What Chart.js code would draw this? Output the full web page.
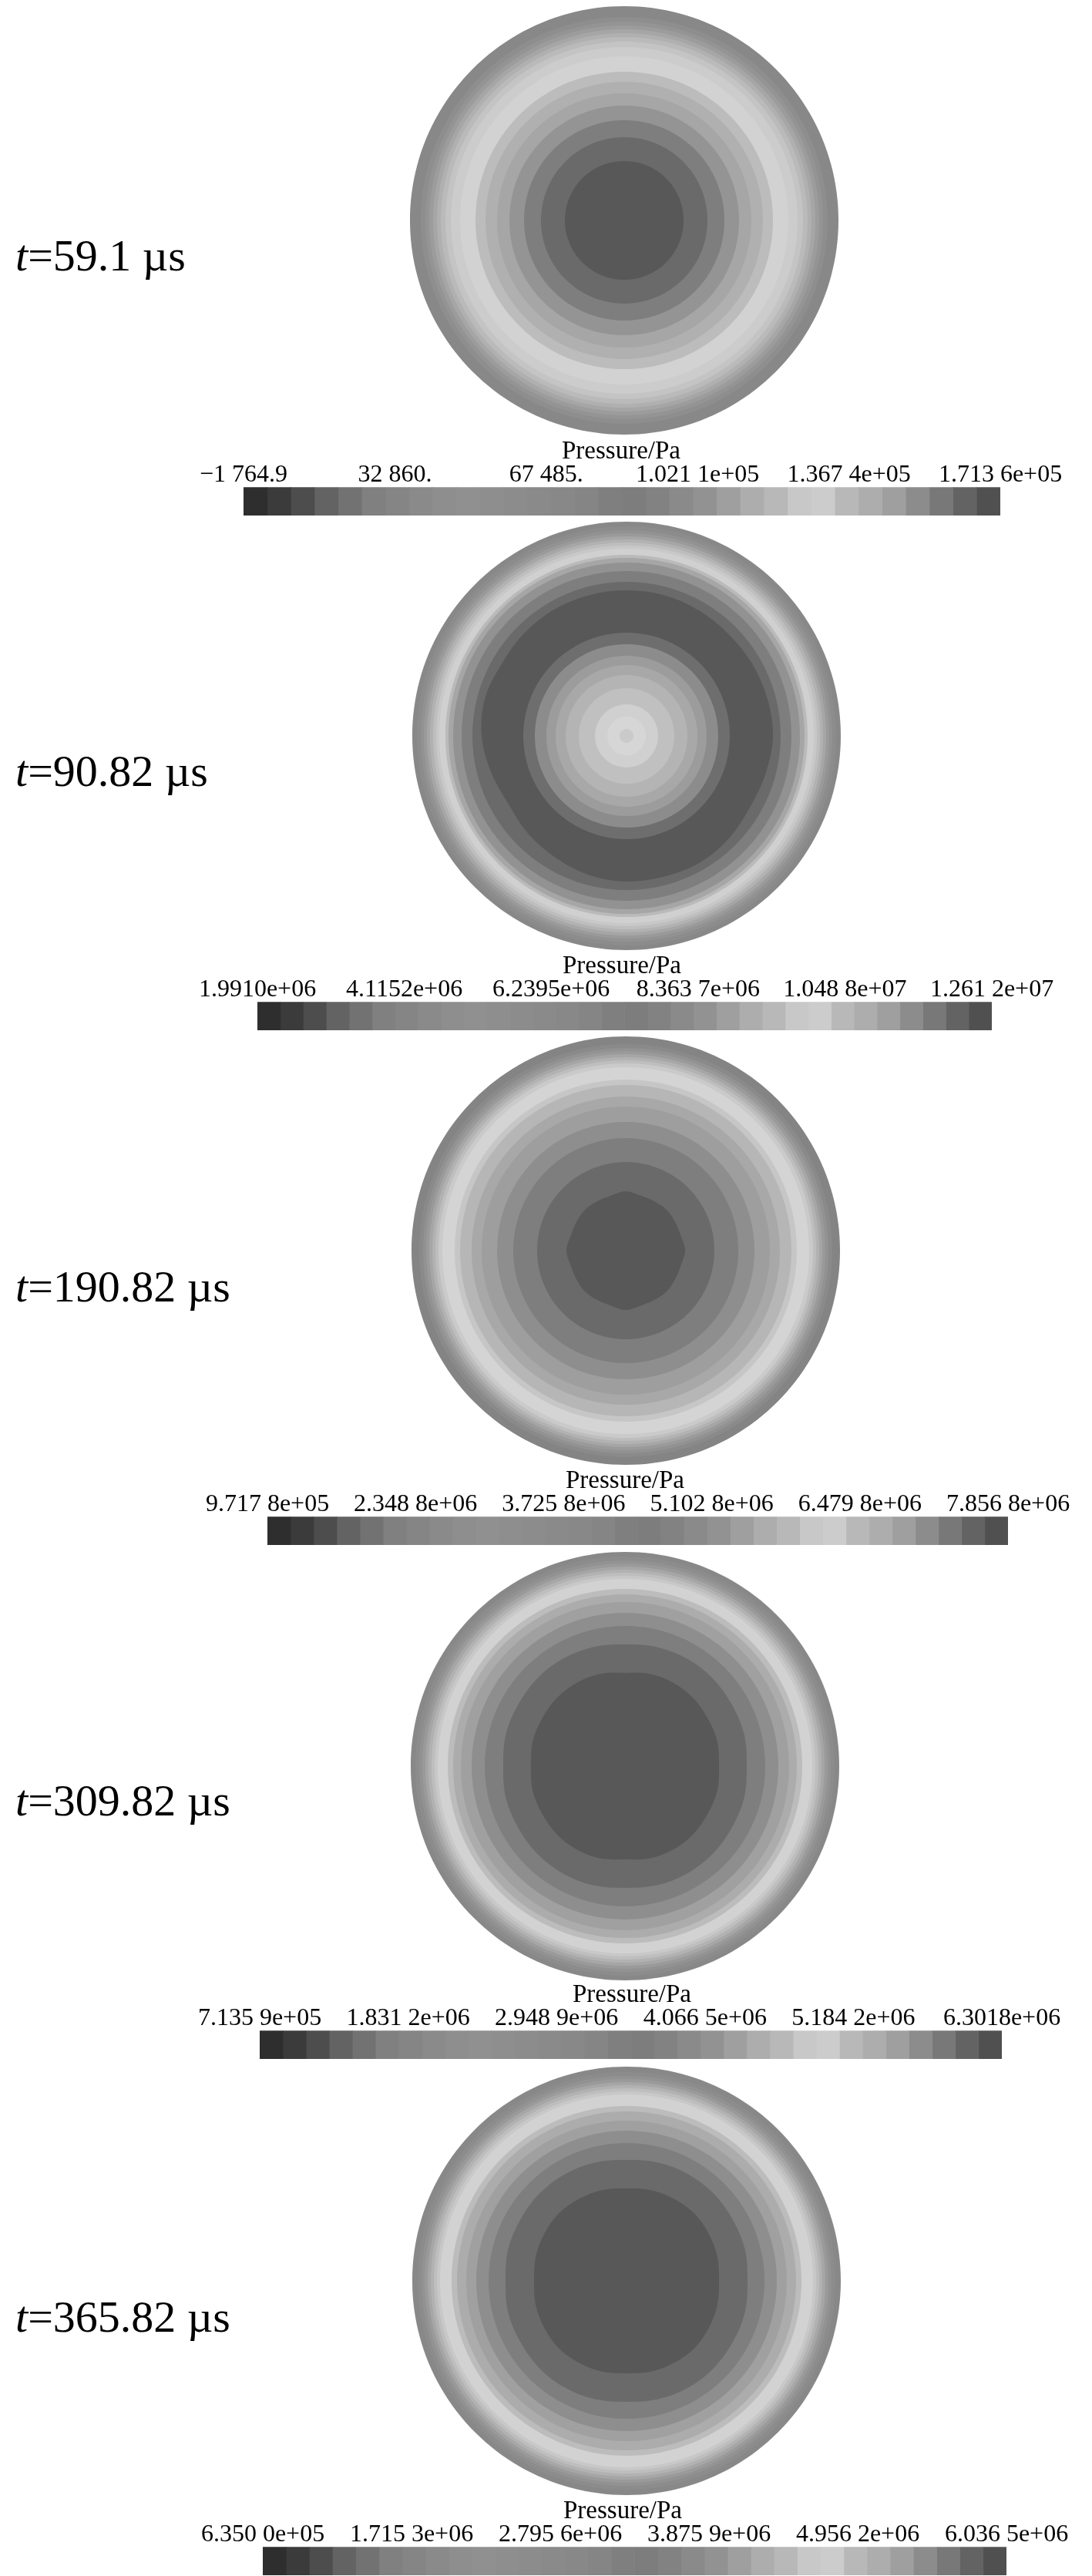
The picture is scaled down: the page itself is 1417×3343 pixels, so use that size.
<!DOCTYPE html>
<html>
<head>
<meta charset="utf-8">
<title>Pressure contours</title>
<script src="https://cdn.jsdelivr.net/npm/chart.js@4/dist/chart.umd.min.js"></script>
<style>
  html, body { margin: 0; padding: 0; background: #fff; }
  #page { position: relative; width: 1417px; height: 3343px; overflow: hidden; background: #fff; }
  #page canvas { position: absolute; }
  .time { position: absolute; left: 20px; font: 58px/60px "Liberation Serif", serif; color: #000; white-space: nowrap; }
  .bar-title { position: absolute; width: 400px; text-align: center; font: 33px/33px "Liberation Serif", serif; color: #000; }
</style>
</head>
<body>
<div id="page"></div>
<script>
// time of each snapshot
const timeLabels = ['59.1', '90.82', '190.82', '309.82', '365.82'];

// directions the contours are read along, clockwise from the top
const spokeAngles = ['0', '15', '30', '45', '60', '75', '90', '105', '120', '135', '150', '165',
  '180', '195', '210', '225', '240', '255', '270', '285', '300', '315', '330', '345'];

// contour radii in px of the picture, inner first; an array means the contour is not round
const darkEdge2 = [189, 189, 188, 187, 188, 189, 190, 187, 185, 188, 190, 189,
  189, 187, 183, 180, 177, 182, 188, 190, 187, 188, 189, 189];
const darkEdge3 = [77, 74, 74, 75, 74, 74, 77, 74, 74, 75, 74, 74,
  77, 74, 74, 75, 74, 74, 77, 74, 74, 75, 74, 74];
const darkEdge4 = [121, 124, 125, 125, 124, 124, 122, 124, 124, 125, 125, 124,
  121, 124, 125, 125, 124, 124, 122, 124, 124, 125, 125, 124];
const midEdge4 = [158, 160, 161, 161, 160, 160, 158, 160, 160, 161, 161, 160,
  158, 160, 161, 161, 160, 160, 158, 160, 160, 161, 161, 160];
const darkEdge5 = [120, 122, 123, 124, 123, 122, 120, 122, 123, 124, 123, 122,
  120, 122, 123, 124, 123, 122, 120, 122, 123, 124, 123, 122];
const midEdge5 = [157, 159, 160, 160, 159, 159, 157, 159, 159, 160, 160, 159,
  157, 159, 160, 160, 159, 159, 157, 159, 159, 160, 160, 159];

const ringRadii1 = [77, 108, 130, 149, 165, 180, 193, 213, 225, 232, 238, 243, 248, 253, 258, 264, 278];
const ringRadii2 = [9, 25, 41, 62, 79, 92, 104, 119, 134, darkEdge2, 200, 214, 225, 231, 235, 243, 247, 251, 255, 259, 263, 267, 272, 278];
const ringRadii3 = [darkEdge3, 115, 146, 167, 187, 200, 215, 222, 238, 243, 247, 251, 255, 259, 263, 268, 278];
const ringRadii4 = [darkEdge4, midEdge4, 182, 199, 213, 223, 230, 243, 247, 251, 255, 259, 263, 267, 272, 278];
const ringRadii5 = [darkEdge5, midEdge5, 179, 195, 208, 220, 227, 242, 246, 250, 254, 258, 262, 266, 271, 278];

// gray level of each contour band
const ringGrays1 = [88, 106, 126, 148, 166, 176, 188, 210, 204, 196, 186, 176, 166, 156, 148, 142, 136];
const ringGrays2 = [202, 214, 208, 192, 180, 168, 156, 140, 110, 88, 106, 126, 146, 166, 186, 208, 200, 190, 178, 166, 154, 146, 140, 136];
const ringGrays3 = [88, 106, 126, 142, 158, 168, 182, 198, 212, 202, 190, 178, 166, 154, 146, 138, 132];
const ringGrays4 = [88, 106, 126, 142, 160, 172, 188, 210, 200, 190, 178, 166, 154, 146, 140, 136];
const ringGrays5 = [88, 106, 126, 142, 160, 172, 188, 210, 200, 190, 178, 166, 154, 146, 140, 136];

// colour bar: gray level of the 32 legend segments, left to right
const barGrays = [46, 59, 77, 99, 114, 128, 133, 138, 142, 144, 142, 140, 138, 136, 133, 127,
  125, 130, 138, 146, 159, 173, 184, 200, 204, 184, 173, 159, 140, 120, 99, 80];

// colour bar ticks (Pa) and how they are printed
const barTicks1 = [-1764.9, 32860, 67485, 102110, 136740, 171360];
const barTicks2 = [1991000, 4115200, 6239500, 8363700, 10488000, 12612000];
const barTicks3 = [971780, 2348800, 3725800, 5102800, 6479800, 7856800];
const barTicks4 = [713590, 1831200, 2948900, 4066500, 5184200, 6301800];
const barTicks5 = [635000, 1715300, 2795600, 3875900, 4956200, 6036500];

const barLabels1 = ['\u22121 764.9', '32 860.', '67 485.', '1.021 1e+05', '1.367 4e+05', '1.713 6e+05'];
const barLabels2 = ['1.9910e+06', '4.1152e+06', '6.2395e+06', '8.363 7e+06', '1.048 8e+07', '1.261 2e+07'];
const barLabels3 = ['9.717 8e+05', '2.348 8e+06', '3.725 8e+06', '5.102 8e+06', '6.479 8e+06', '7.856 8e+06'];
const barLabels4 = ['7.135 9e+05', '1.831 2e+06', '2.948 9e+06', '4.066 5e+06', '5.184 2e+06', '6.3018e+06'];
const barLabels5 = ['6.350 0e+05', '1.715 3e+06', '2.795 6e+06', '3.875 9e+06', '4.956 2e+06', '6.036 5e+06'];

// where things sit on the page
const layout = [
  { discX: 810, discY: 286, timeY: 302, barLeft: 316, barRight: 1298, barBottom: 669, titleX: 806 },
  { discX: 813, discY: 955, timeY: 971, barLeft: 334, barRight: 1287, barBottom: 1337, titleX: 807 },
  { discX: 812, discY: 1623, timeY: 1640, barLeft: 347, barRight: 1308, barBottom: 2005, titleX: 811 },
  { discX: 811, discY: 2292, timeY: 2307, barLeft: 337, barRight: 1300, barBottom: 2672, titleX: 820 },
  { discX: 813, discY: 2960, timeY: 2977, barLeft: 341, barRight: 1306, barBottom: 3342, titleX: 808 }
];

const allRadii = [ringRadii1, ringRadii2, ringRadii3, ringRadii4, ringRadii5];
const allGrays = [ringGrays1, ringGrays2, ringGrays3, ringGrays4, ringGrays5];
const allTicks = [barTicks1, barTicks2, barTicks3, barTicks4, barTicks5];
const allLabels = [barLabels1, barLabels2, barLabels3, barLabels4, barLabels5];

const page = document.getElementById('page');
const serif = '"Liberation Serif", serif';
const discSize = 560;
const barChartHeight = 68;

function gray(v) {
  return 'rgb(' + v + ',' + v + ',' + v + ')';
}

function addCanvas(left, top, width, height) {
  const canvas = document.createElement('canvas');
  canvas.width = width;
  canvas.height = height;
  canvas.style.left = left + 'px';
  canvas.style.top = top + 'px';
  page.appendChild(canvas);
  return canvas;
}

// contour plot: filled radar areas stacked on each other, first dataset ends up on top
function drawDisc(spot, radii, grays) {
  const canvas = addCanvas(spot.discX - discSize / 2, spot.discY - discSize / 2, discSize, discSize);
  new Chart(canvas, {
    type: 'radar',
    data: {
      labels: spokeAngles,
      datasets: radii.map((r, i) => ({
        data: Array.isArray(r) ? r : spokeAngles.map(() => r),
        backgroundColor: gray(grays[i]),
        borderWidth: 0,
        pointRadius: 0,
        tension: 0.34,
        fill: true
      }))
    },
    options: {
      responsive: false,
      animation: false,
      layout: { padding: 0 },
      plugins: { legend: { display: false }, title: { display: false }, tooltip: { enabled: false } },
      scales: {
        r: {
          min: 0,
          max: discSize / 2,
          grid: { display: false },
          angleLines: { display: false },
          ticks: { display: false },
          pointLabels: { display: false }
        }
      }
    }
  });
}

// colour bar: horizontal floating bars on a linear pressure axis
function drawBar(spot, ticks, labels) {
  const canvas = addCanvas(0, spot.barBottom - barChartHeight, 1417, barChartHeight);
  const low = ticks[0];
  const high = ticks[ticks.length - 1];
  const step = (high - low) / barGrays.length;
  new Chart(canvas, {
    type: 'bar',
    data: {
      labels: ['Pressure'],
      datasets: barGrays.map((g, i) => ({
        data: [[low + i * step, low + (i + 1) * step]],
        backgroundColor: gray(g),
        grouped: false,
        barPercentage: 1,
        categoryPercentage: 1
      }))
    },
    options: {
      indexAxis: 'y',
      responsive: false,
      animation: false,
      layout: { padding: { left: spot.barLeft, right: 1417 - spot.barRight, top: 0, bottom: 0 } },
      plugins: { legend: { display: false }, title: { display: false }, tooltip: { enabled: false } },
      scales: {
        x: {
          type: 'linear',
          position: 'top',
          min: low,
          max: high,
          border: { display: false },
          grid: { display: false, drawTicks: false },
          afterBuildTicks: axis => { axis.ticks = ticks.map(value => ({ value })); },
          ticks: {
            color: '#000',
            padding: 2,
            autoSkip: false,
            maxRotation: 0,
            minRotation: 0,
            font: { family: serif, size: 32, lineHeight: 0.85 },
            callback: (value, index) => labels[index]
          }
        },
        y: { display: false }
      }
    }
  });
}

// the title is centred under the disc, not over the bar, so it cannot be the axis title
function addBarTitle(spot) {
  const div = document.createElement('div');
  div.className = 'bar-title';
  div.style.left = (spot.titleX - 200) + 'px';
  div.style.top = (spot.barBottom - barChartHeight - 33) + 'px';
  div.textContent = 'Pressure/Pa';
  page.appendChild(div);
}

function addTimeLabel(spot, text) {
  const div = document.createElement('div');
  div.className = 'time';
  div.style.top = spot.timeY + 'px';
  const t = document.createElement('i');
  t.textContent = 't';
  div.appendChild(t);
  div.appendChild(document.createTextNode('=' + text + ' \u00b5s'));
  page.appendChild(div);
}

layout.forEach((spot, i) => {
  drawDisc(spot, allRadii[i], allGrays[i]);
  drawBar(spot, allTicks[i], allLabels[i]);
  addBarTitle(spot);
  addTimeLabel(spot, timeLabels[i]);
});
</script>
</body>
</html>
